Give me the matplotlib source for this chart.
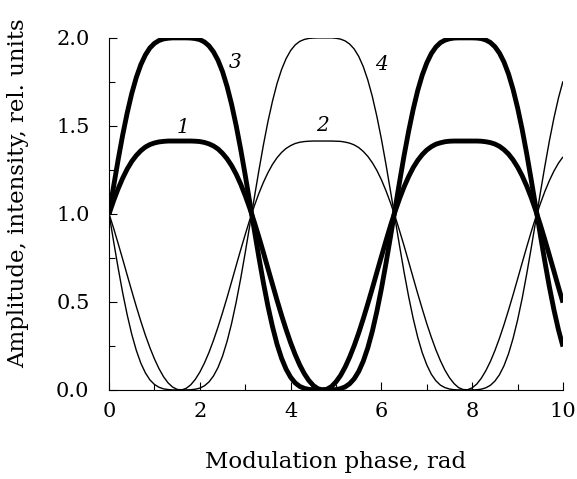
import matplotlib
matplotlib.use("Agg")
import matplotlib.pyplot as plt
from matplotlib.ticker import MultipleLocator, FormatStrFormatter

# modulation phase, rad
phase = [0.0, 0.1, 0.2, 0.3, 0.4, 0.5, 0.6, 0.7, 0.8, 0.9,
         1.0, 1.1, 1.2, 1.3, 1.4, 1.5, 1.6, 1.7, 1.8, 1.9,
         2.0, 2.1, 2.2, 2.3, 2.4, 2.5, 2.6, 2.7, 2.8, 2.9,
         3.0, 3.1, 3.2, 3.3, 3.4, 3.5, 3.6, 3.7, 3.8, 3.9,
         4.0, 4.1, 4.2, 4.3, 4.4, 4.5, 4.6, 4.7, 4.8, 4.9,
         5.0, 5.1, 5.2, 5.3, 5.4, 5.5, 5.6, 5.7, 5.8, 5.9,
         6.0, 6.1, 6.2, 6.3, 6.4, 6.5, 6.6, 6.7, 6.8, 6.9,
         7.0, 7.1, 7.2, 7.3, 7.4, 7.5, 7.6, 7.7, 7.8, 7.9,
         8.0, 8.1, 8.2, 8.3, 8.4, 8.5, 8.6, 8.7, 8.8, 8.9,
         9.0, 9.1, 9.2, 9.3, 9.4, 9.5, 9.6, 9.7, 9.8, 9.9,
         10.0]

# curve 1 (thick): amplitude
amp_1 = [1.000, 1.075, 1.143, 1.203, 1.255, 1.298, 1.332, 1.359, 1.380, 1.394,
         1.403, 1.409, 1.412, 1.414, 1.414, 1.414, 1.414, 1.414, 1.414, 1.413,
         1.411, 1.406, 1.398, 1.386, 1.369, 1.344, 1.313, 1.274, 1.226, 1.169,
         1.104, 1.032, 0.953, 0.869, 0.781, 0.690, 0.600, 0.510, 0.424, 0.343,
         0.268, 0.201, 0.142, 0.093, 0.054, 0.025, 0.007, 0.000, 0.004, 0.019,
         0.046, 0.082, 0.129, 0.186, 0.251, 0.324, 0.404, 0.489, 0.577, 0.668,
         0.758, 0.847, 0.933, 1.013, 1.087, 1.154, 1.212, 1.263, 1.304, 1.337,
         1.363, 1.382, 1.396, 1.404, 1.410, 1.413, 1.414, 1.414, 1.414, 1.414,
         1.414, 1.414, 1.413, 1.410, 1.405, 1.397, 1.384, 1.365, 1.340, 1.307,
         1.266, 1.217, 1.159, 1.093, 1.019, 0.939, 0.854, 0.765, 0.675, 0.584,
         0.496]

# curve 2 (thin): amplitude
amp_2 = [1.000, 0.919, 0.832, 0.743, 0.652, 0.562, 0.474, 0.390, 0.311, 0.240,
         0.176, 0.121, 0.075, 0.040, 0.016, 0.003, 0.000, 0.009, 0.029, 0.060,
         0.101, 0.152, 0.212, 0.281, 0.357, 0.439, 0.525, 0.615, 0.706, 0.796,
         0.883, 0.967, 1.045, 1.116, 1.179, 1.234, 1.281, 1.319, 1.349, 1.372,
         1.388, 1.400, 1.407, 1.411, 1.413, 1.414, 1.414, 1.414, 1.414, 1.414,
         1.413, 1.412, 1.408, 1.402, 1.392, 1.377, 1.355, 1.327, 1.291, 1.247,
         1.194, 1.132, 1.063, 0.987, 0.904, 0.818, 0.728, 0.637, 0.547, 0.460,
         0.376, 0.299, 0.228, 0.166, 0.112, 0.069, 0.036, 0.013, 0.002, 0.001,
         0.012, 0.033, 0.066, 0.109, 0.161, 0.223, 0.293, 0.370, 0.453, 0.540,
         0.630, 0.721, 0.811, 0.898, 0.980, 1.057, 1.127, 1.189, 1.243, 1.288,
         1.324]

# curve 3 (thick): intensity
int_3 = [1.000, 1.156, 1.307, 1.448, 1.574, 1.684, 1.775, 1.848, 1.903, 1.943,
         1.969, 1.985, 1.994, 1.998, 2.000, 2.000, 2.000, 2.000, 1.999, 1.996,
         1.990, 1.977, 1.955, 1.921, 1.873, 1.808, 1.724, 1.622, 1.502, 1.367,
         1.220, 1.065, 0.908, 0.755, 0.609, 0.476, 0.360, 0.260, 0.180, 0.118,
         0.072, 0.040, 0.020, 0.009, 0.003, 0.001, 0.000, 0.000, 0.000, 0.000,
         0.002, 0.007, 0.017, 0.035, 0.063, 0.105, 0.163, 0.239, 0.333, 0.446,
         0.575, 0.718, 0.870, 1.026, 1.182, 1.332, 1.470, 1.594, 1.701, 1.789,
         1.858, 1.911, 1.948, 1.973, 1.987, 1.995, 1.999, 2.000, 2.000, 2.000,
         2.000, 1.999, 1.996, 1.988, 1.974, 1.950, 1.914, 1.863, 1.795, 1.708,
         1.603, 1.481, 1.343, 1.194, 1.039, 0.882, 0.730, 0.586, 0.456, 0.342,
         0.246]

# curve 4 (thin): intensity
int_4 = [1.000, 0.844, 0.693, 0.552, 0.426, 0.316, 0.225, 0.152, 0.097, 0.057,
         0.031, 0.015, 0.006, 0.002, 0.000, 0.000, 0.000, 0.000, 0.001, 0.004,
         0.010, 0.023, 0.045, 0.079, 0.127, 0.192, 0.276, 0.378, 0.498, 0.633,
         0.780, 0.935, 1.092, 1.245, 1.391, 1.524, 1.640, 1.740, 1.820, 1.882,
         1.928, 1.960, 1.980, 1.991, 1.997, 1.999, 2.000, 2.000, 2.000, 2.000,
         1.998, 1.993, 1.983, 1.965, 1.937, 1.895, 1.837, 1.761, 1.667, 1.554,
         1.425, 1.282, 1.130, 0.974, 0.818, 0.668, 0.530, 0.406, 0.299, 0.211,
         0.142, 0.089, 0.052, 0.027, 0.013, 0.005, 0.001, 0.000, 0.000, 0.000,
         0.000, 0.001, 0.004, 0.012, 0.026, 0.050, 0.086, 0.137, 0.205, 0.292,
         0.397, 0.519, 0.657, 0.806, 0.961, 1.118, 1.270, 1.414, 1.544, 1.658,
         1.754]

curve_labels = ["1", "2", "3", "4"]
label_xy = [(1.63, 1.49), (4.71, 1.50), (2.78, 1.86), (6.01, 1.85)]

plt.rcParams["font.family"] = "DejaVu Serif"

fig = plt.figure(figsize=(5.77, 4.79), dpi=100)
ax = fig.add_axes([0.189, 0.186, 0.7867, 0.7349])

THICK, THIN = 3.5, 1.0
ax.plot(phase, int_4, color="black", lw=THIN, solid_capstyle="butt")
ax.plot(phase, amp_2, color="black", lw=THIN, solid_capstyle="butt")
ax.plot(phase, int_3, color="black", lw=THICK, solid_capstyle="butt")
ax.plot(phase, amp_1, color="black", lw=THICK, solid_capstyle="butt")

for lab, (x, y) in zip(curve_labels, label_xy):
    ax.text(x, y, lab, style="italic", fontsize=14.5, ha="center", va="center")

ax.set_xlim(0, 10)
ax.set_ylim(0, 2.0)
ax.xaxis.set_major_locator(MultipleLocator(2))
ax.xaxis.set_minor_locator(MultipleLocator(1))
ax.yaxis.set_major_locator(MultipleLocator(0.5))
ax.yaxis.set_minor_locator(MultipleLocator(0.25))
ax.yaxis.set_major_formatter(FormatStrFormatter("%.1f"))
ax.tick_params(which="both", direction="in", labelsize=15, width=0.8)
ax.tick_params(which="major", length=6)
ax.tick_params(which="minor", length=4)
ax.tick_params(axis="x", pad=9)
ax.tick_params(axis="y", pad=14)
for side in ("top", "right"):
    ax.spines[side].set_visible(False)
for side in ("left", "bottom"):
    ax.spines[side].set_linewidth(0.8)

fig.text(0.582, 0.035, "Modulation phase, rad", fontsize=16.5, ha="center", va="center")
fig.text(0.031, 0.596, "Amplitude, intensity, rel. units", fontsize=16.5,
         rotation=90, ha="center", va="center")

fig.savefig("out.png", dpi=100)
